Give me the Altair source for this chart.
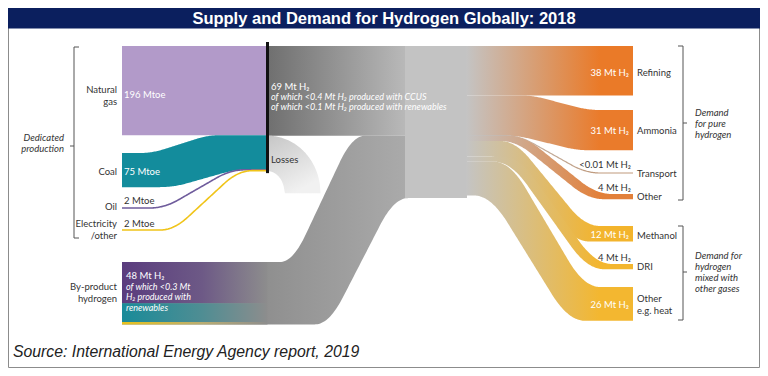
import altair as alt
import numpy as np
import pandas as pd

# ---------------- data ----------------
title_text = "Supply and Demand for Hydrogen Globally: 2018"
source_text = "Source: International Energy Agency report, 2019"

supply_names = [["Natural", "gas"], ["Coal"], ["Oil"], ["Electricity", "/other"]]
supply_mtoe = [196, 75, 2, 2]

dedicated_mt = 69
dedicated_notes = ["of which <0.4 Mt H₂ produced with CCUS",
                   "of which <0.1 Mt H₂ produced with renewables"]
losses_label = "Losses"

byproduct_name = ["By-product", "hydrogen"]
byproduct_mt = 48
byproduct_notes = ["of which <0.3 Mt", "H₂ produced with", "renewables"]
byproduct_mix = [0.66, 0.30, 0.04]   # purple / teal / yellow shares of the band

demand_names = [["Refining"], ["Ammonia"], ["Transport"], ["Other"],
                ["Methanol"], ["DRI"], ["Other", "e.g. heat"]]
demand_mt = [38, 31, 0.01, 4, 12, 4, 26]

group_left = ["Dedicated", "production"]
group_right = [["Demand", "for pure", "hydrogen"],
               ["Demand for", "hydrogen", "mixed with", "other gases"]]

# ---------------- layout (pixel frame of the 768x376 picture) ----------------
W, H = 752, 360
XS = alt.Scale(domain=[8, 8 + W])
YS = alt.Scale(domain=[8, 8 + H], reverse=True)
K_TOE = 0.455    # px per Mtoe
K_H2 = 1.3       # px per Mt H2
TOP = 46
X_SRC, X_BAR, X_HUB0, X_HUB1, X_DST = 122, 267.5, 405, 467, 633
supply_top = [46, 153, 208, 230]
byprod_top = 262
demand_top = [46, 110, 173, 194, 226, 264, 287]
supply_trans = [None, (140, 220, 160, 250), (150, 245), (160, 252)]
demand_trans = [None, (520, 600, 505, 590), (505, 600), (508, 612, 500, 604),
                (500, 600, 490, 590), (502, 612, 494, 604), (494, 600, 474, 585)]
demand_colors = ["#ea7a28", "#ea7b2b", "#c09a7c", "#e2803a", "#f3b42c", "#f3b62f", "#f3b730"]
FONT = "Lato"
TXT = "#333333"


def ramp(t, w=0.3):
    t = np.clip(t, 0, 1)
    m = 1 / (1 - w)
    return np.where(t < w, m * t * t / (2 * w),
                    np.where(t > 1 - w, 1 - m * (1 - t) ** 2 / (2 * w), m * (t - w / 2)))


def edge(xs, x0, x1, y0, y1, w=0.3):
    return y0 + (y1 - y0) * ramp((xs - x0) / (x1 - x0), w)


def X(f="x"):
    return alt.X(f"{f}:Q", scale=XS, axis=None)


def Y(f="y"):
    return alt.Y(f"{f}:Q", scale=YS, axis=None)


def grad(stops, x1=0, x2=1, y1=0, y2=0):
    return alt.Gradient(gradient="linear",
                        stops=[alt.GradientStop(offset=o, color=c) for o, c in stops],
                        x1=x1, x2=x2, y1=y1, y2=y2)


def area(xs, top, bot, fill, **kw):
    df = pd.DataFrame({"x": xs, "y": top, "y2": bot})
    return alt.Chart(df).mark_area(orient="vertical", fill=fill, **kw).encode(
        x=X(), y=Y(), y2=alt.Y2("y2:Q"))


def rect(x0, x1, y0, y1, fill, **kw):
    df = pd.DataFrame({"x": [x0], "x2": [x1], "y": [y0], "y2": [y1]})
    return alt.Chart(df).mark_rect(fill=fill, **kw).encode(
        x=X(), x2=alt.X2("x2:Q"), y=Y(), y2=alt.Y2("y2:Q"))


def line(xs, ys, stroke, width):
    df = pd.DataFrame({"x": xs, "y": ys})
    return alt.Chart(df).mark_line(stroke=stroke, strokeWidth=width).encode(x=X(), y=Y())


def texts(rows, **kw):
    df = pd.DataFrame(rows, columns=["x", "y", "t"])
    return alt.Chart(df).mark_text(**kw).encode(x=X(), y=Y(), text="t:N")


def rules(segs, color="#555555", width=1):
    df = pd.DataFrame(segs, columns=["x", "y", "x2", "y2"])
    return alt.Chart(df).mark_rule(color=color, strokeWidth=width).encode(
        x=X(), y=Y(), x2=alt.X2("x2:Q"), y2=alt.Y2("y2:Q"))


layers = []
# frame + title bar
layers.append(rect(8.5, 759.5, 27.5, 367.5, "#ffffff", stroke="#8c8c8c", strokeWidth=1))
layers.append(rect(8, 760, 8, 28.5, "#0b1f5e"))
layers.append(texts([(384, 18.5, title_text)], font="Liberation Sans", fontSize=16.5,
                    fontWeight="bold", color="white", align="center", baseline="middle"))
layers.append(texts([(13, 352, source_text)], font="Liberation Sans", fontSize=15.8,
                    fontStyle="italic", color="#222222", align="left", baseline="middle"))

# ---- supply side ----
h_sup = [v * K_TOE for v in supply_mtoe]
bar_tops = list(TOP + np.concatenate([[0], np.cumsum(h_sup)[:-1]]))
bar_bottom = TOP + sum(h_sup)
xs_l = np.linspace(X_SRC, X_BAR, 140)

layers.append(rect(X_SRC, X_BAR, supply_top[0], supply_top[0] + h_sup[0], "#b29ac9"))
c = supply_trans[1]
layers.append(area(xs_l,
                   edge(xs_l, c[0], c[1], supply_top[1], bar_tops[1]),
                   edge(xs_l, c[2], c[3], supply_top[1] + h_sup[1], bar_tops[1] + h_sup[1]),
                   "#138c9c"))
for i, col in [(2, "#6f5c9c"), (3, "#f0c419")]:
    c = supply_trans[i]
    layers.append(line(xs_l, edge(xs_l, c[0], c[1], supply_top[i], bar_tops[i] + h_sup[i] / 2),
                       col, 1.6))

# dedicated output band and losses
out_bottom = TOP + dedicated_mt * K_H2
layers.append(rect(X_BAR, X_HUB0 + 1, TOP, out_bottom,
                   grad([(0, "#6f6f6f"), (1, "#b9b9b9")])))
cy = bar_bottom + 22
rx_o, ry_o = 53, cy - out_bottom
rx_i, ry_i = 17, cy - bar_bottom
xs_loss = np.linspace(X_BAR, X_BAR + rx_o, 80)
u = (xs_loss - X_BAR)
top_loss = cy - ry_o * np.sqrt(np.clip(1 - (u / rx_o) ** 2, 0, 1))
bot_loss = np.where(u < rx_i, cy - ry_i * np.sqrt(np.clip(1 - (u / rx_i) ** 2, 0, 1)), cy)
layers.append(area(xs_loss, top_loss, bot_loss,
                   grad([(0, "#c6c6c6"), (1, "#f1f1f1")], x1=0, x2=0.5, y1=0, y2=1)))

# by-product band
h_bp = byproduct_mt * K_H2
xs_bp = np.linspace(X_SRC, X_HUB0 + 5, 200)
layers.append(area(xs_bp,
                   edge(xs_bp, 280, 365, byprod_top, out_bottom),
                   edge(xs_bp, 315, 408, byprod_top + h_bp, out_bottom + h_bp),
                   grad([(0, "#8d8d8d"), (0.5, "#8f8f8f"), (1, "#ababab")])))
mix_cols = [["#5a3c7e", "#6d5986", "#8d8d8d"], ["#198b99", "#4f8d93", "#8d8d8d"],
            ["#e8c21c", "#b9ad72", "#8d8d8d"]]
y0 = byprod_top
for share, cols in zip(byproduct_mix, mix_cols):
    y1 = y0 + share * h_bp
    layers.append(rect(X_SRC, X_BAR, y0, y1, grad([(0, cols[0]), (0.55, cols[1]), (1, cols[2])])))
    y0 = y1

# hub
hub_bottom = max(out_bottom + h_bp, TOP + sum(demand_mt) * K_H2)
layers.append(rect(X_HUB0, X_HUB1, TOP, hub_bottom, "#c3c3c3"))

# ---- demand side ----
h_dem = [v * K_H2 for v in demand_mt]
hub_tops = list(TOP + np.concatenate([[0], np.cumsum(h_dem)[:-1]]))
xs_r = np.linspace(X_HUB1 - 1, X_DST, 170)
for i in range(len(demand_mt)):
    c = demand_trans[i]
    g = grad([(0, "#c4c4c4"), (0.8, demand_colors[i]), (1, demand_colors[i])])
    if c is None:
        layers.append(area(xs_r, np.full_like(xs_r, hub_tops[i]),
                           np.full_like(xs_r, hub_tops[i] + h_dem[i]), g))
    elif len(c) == 2:
        layers.append(line(xs_r, edge(xs_r, c[0], c[1], hub_tops[i], demand_top[i]), g, 1.2))
    else:
        layers.append(area(xs_r,
                           edge(xs_r, c[0], c[1], hub_tops[i], demand_top[i]),
                           edge(xs_r, c[2], c[3], hub_tops[i] + h_dem[i], demand_top[i] + h_dem[i]),
                           g))

# black bar
layers.append(rules([(X_BAR, TOP - 4, X_BAR, bar_bottom + 2)], color="#111111", width=3))

# ---- brackets ----
layers.append(rules([(74, 47, 74, 238), (74, 47, 79, 47), (74, 238, 79, 238), (70, 146, 74, 146),
                     (683, 46, 683, 200), (678, 46, 683, 46), (678, 200, 683, 200), (683, 123, 687, 123),
                     (683, 226, 683, 320), (678, 226, 683, 226), (678, 320, 683, 320), (683, 272, 687, 272)],
                    color="#555555", width=1))

# ---- texts ----
lab = dict(font=FONT, fontSize=9.5, color=TXT, baseline="middle")
left_rows = []
name_y = [[90, 102], [172], [207], [224, 236]]
for names, ys in zip(supply_names, name_y):
    left_rows += [(117, y, n) for n, y in zip(names, ys)]
left_rows += [(117, y, n) for n, y in zip(byproduct_name, [287, 299])]
layers.append(texts(left_rows, align="right", **lab))

val_y = [95, 172, 201, 224]
layers.append(texts([(124, val_y[i], f"{supply_mtoe[i]} Mtoe") for i in (0, 1)],
                    align="left", font=FONT, fontSize=9.5, color="white", baseline="middle"))
layers.append(texts([(124, val_y[i], f"{supply_mtoe[i]} Mtoe") for i in (2, 3)],
                    align="left", **lab))

layers.append(texts([(271, 87, f"{dedicated_mt} Mt H₂"), (126, 276, f"{byproduct_mt} Mt H₂")],
                    align="left", font=FONT, fontSize=9.5, color="white", baseline="middle"))
layers.append(texts([(271, 97, dedicated_notes[0]), (271, 107, dedicated_notes[1])] +
                    [(126, y, t) for t, y in zip(byproduct_notes, [287, 297, 308])],
                    align="left", font=FONT, fontSize=9, fontStyle="italic", color="white",
                    baseline="middle"))
layers.append(texts([(271, 160, losses_label)], align="left", **lab))


def dem_txt(v):
    return f"{v:g} Mt H₂" if v >= 1 else f"<{v:g} Mt H₂"


white_idx = [0, 1, 4, 6]
val_ry = [73, 131, 165, 188, 235, 258, 305]
layers.append(texts([(629, val_ry[i], dem_txt(demand_mt[i])) for i in white_idx],
                    align="right", font=FONT, fontSize=9.5, color="white", baseline="middle"))
layers.append(texts([(631, val_ry[i], dem_txt(demand_mt[i])) for i in range(7) if i not in white_idx],
                    align="right", **lab))
dn_y = [[73], [131], [174], [197], [236], [267], [299, 311]]
right_rows = []
for names, ys in zip(demand_names, dn_y):
    right_rows += [(637, y, n) for n, y in zip(names, ys)]
layers.append(texts(right_rows, align="left", **lab))

grp_rows = [(695, y, t) for t, y in zip(group_right[0], [113, 124, 135])]
grp_rows += [(695, y, t) for t, y in zip(group_right[1], [256, 267, 278, 289])]
layers.append(texts(grp_rows, align="left", font=FONT, fontSize=9.5, fontStyle="italic",
                    color=TXT, baseline="middle"))
layers.append(texts([(64, 138, group_left[0]), (64, 149, group_left[1])], align="right",
                    font=FONT, fontSize=9.5, fontStyle="italic", color=TXT, baseline="middle"))

chart = alt.layer(*layers).properties(
    width=W, height=H, padding=0, autosize=alt.AutoSizeParams(type="none")
).configure_view(stroke=None)

chart.save("out.html", embed_options={"renderer": "svg", "actions": False})
